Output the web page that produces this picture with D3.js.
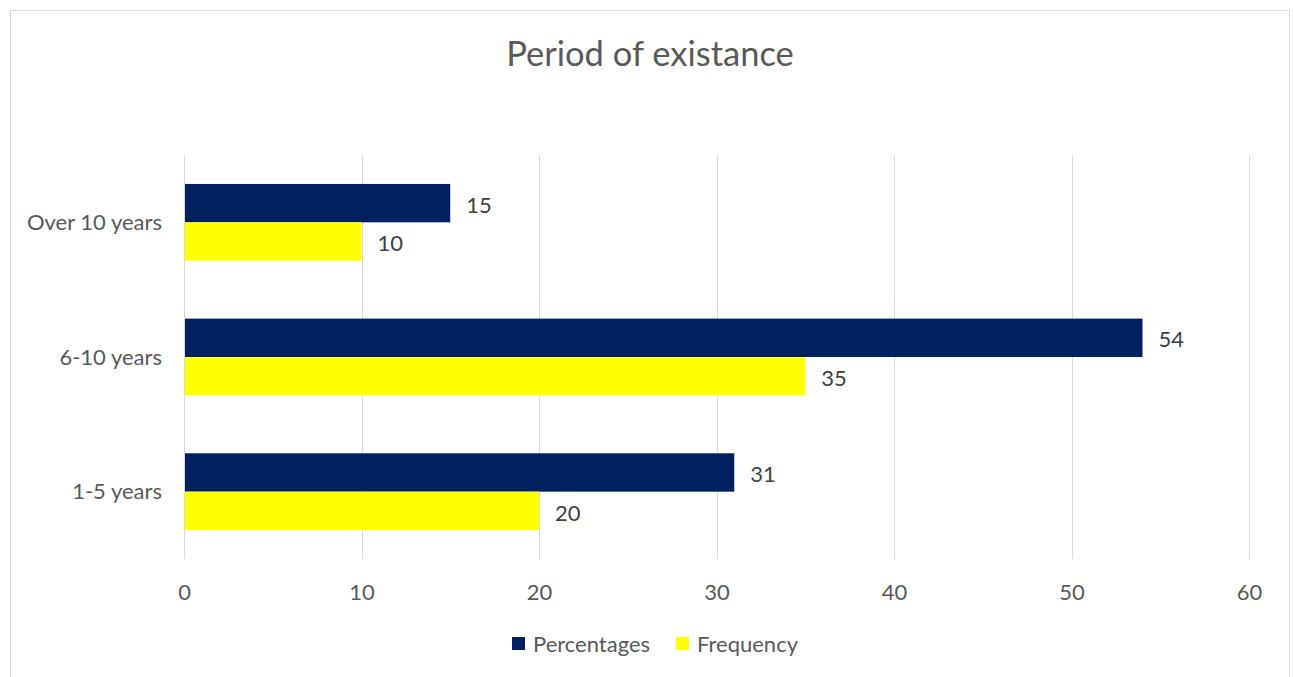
<!DOCTYPE html>
<html>
<head>
<meta charset="utf-8">
<script src="https://cdn.jsdelivr.net/npm/d3@7"></script>
<style>
  html, body { margin: 0; padding: 0; background: #fff; }
  svg { display: block; font-family: Lato, "Open Sans", sans-serif; }
</style>
</head>
<body>
<svg id="chart" width="1293" height="677"></svg>
<script>
// Chart data
const categories = ["Over 10 years", "6-10 years", "1-5 years"];
const seriesNames = ["Percentages", "Frequency"];
const percentages = [15, 54, 31];
const frequency = [10, 35, 20];
const xTicks = [0, 10, 20, 30, 40, 50, 60];
const seriesColors = ["#002060", "#FFFF00"];

const svg = d3.select("#chart");
const FONT = "Lato, 'Open Sans', sans-serif";

// Outer frame
svg.append("rect")
  .attr("x", 10.5).attr("y", 10.5)
  .attr("width", 1279).attr("height", 700)
  .attr("fill", "#fff").attr("stroke", "#d9d9d9").attr("stroke-width", 1);

// Title
svg.append("text")
  .attr("x", 650).attr("y", 66)
  .attr("text-anchor", "middle")
  .attr("fill", "#595959")
  .attr("font-size", 34.5)
  .text("Period of existance");

const plot = { left: 184, right: 1249, top: 155, bottom: 559 };

const x = d3.scaleLinear().domain([0, 60]).range([plot.left, plot.right]);
const y = d3.scaleBand().domain(categories).range([plot.top, plot.bottom]).paddingInner(0.43).paddingOuter(0.215);
const ySub = d3.scaleBand().domain(seriesNames).range([0, y.bandwidth()]);

// Vertical gridlines
svg.append("g")
  .selectAll("line")
  .data(xTicks)
  .join("line")
  .attr("x1", d => Math.round(x(d)) + 0.5)
  .attr("x2", d => Math.round(x(d)) + 0.5)
  .attr("y1", plot.top).attr("y2", plot.bottom)
  .attr("stroke", "#d9d9d9").attr("stroke-width", 1);

// X axis tick labels
const xAxis = d3.axisBottom(x).tickValues(xTicks).tickSize(0).tickPadding(0);
const gx = svg.append("g").attr("transform", `translate(0,${plot.bottom})`).call(xAxis);
gx.select(".domain").remove();
gx.selectAll("text")
  .attr("dy", null).attr("y", 41)
  .attr("fill", "#595959").attr("font-size", 22)
  .attr("font-family", FONT);

// Y axis category labels
const yAxis = d3.axisLeft(y).tickSize(0).tickPadding(0);
const gy = svg.append("g").attr("transform", `translate(${plot.left},0)`).call(yAxis);
gy.select(".domain").remove();
gy.selectAll("text")
  .attr("x", -22).attr("dy", "0.35em")
  .attr("fill", "#595959").attr("font-size", 22)
  .attr("font-family", FONT);

// Bars
const rows = categories.map((c, i) => ({ cat: c, values: [
  { name: seriesNames[0], value: percentages[i], color: seriesColors[0] },
  { name: seriesNames[1], value: frequency[i], color: seriesColors[1] }
]}));

const groups = svg.append("g").selectAll("g")
  .data(rows).join("g")
  .attr("transform", d => `translate(0,${y(d.cat)})`);

groups.selectAll("rect")
  .data(d => d.values).join("rect")
  .attr("x", x(0) + 1)
  .attr("y", d => ySub(d.name))
  .attr("width", d => x(d.value) - x(0) - 1)
  .attr("height", ySub.bandwidth())
  .attr("fill", d => d.color);

// Value labels
groups.selectAll("text")
  .data(d => d.values).join("text")
  .attr("x", d => x(d.value) + 16)
  .attr("y", d => ySub(d.name) + ySub.bandwidth() / 2 + 2)
  .attr("dy", "0.35em")
  .attr("fill", "#404040").attr("font-size", 22)
  .text(d => d.value);

// Legend
const legend = svg.append("g").attr("transform", "translate(512,637)");
const legendItems = [
  { name: seriesNames[0], color: seriesColors[0], dx: 0 },
  { name: seriesNames[1], color: seriesColors[1], dx: 164 }
];
const li = legend.selectAll("g").data(legendItems).join("g")
  .attr("transform", d => `translate(${d.dx},0)`);
li.append("rect").attr("width", 13).attr("height", 13).attr("fill", d => d.color);
li.append("text").attr("x", 21).attr("y", 7).attr("dy", "0.35em")
  .attr("fill", "#595959").attr("font-size", 22)
  .text(d => d.name);
</script>
</body>
</html>
